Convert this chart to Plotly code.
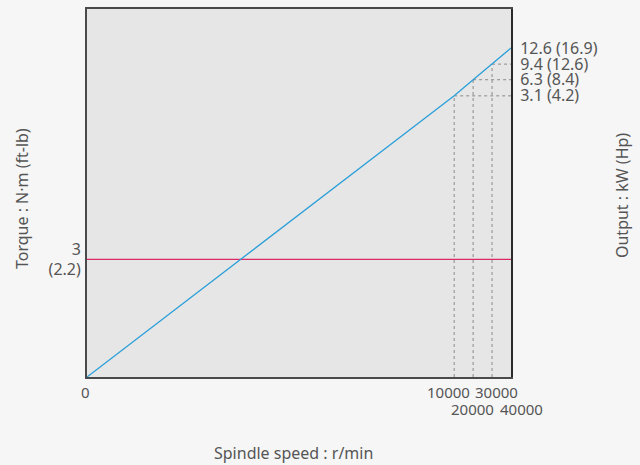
import numpy as np
import plotly.graph_objects as go

# ---- data ----
speeds = [0, 10000, 20000, 30000, 40000]          # r/min
outputs = [0, 3.1, 6.3, 9.4, 12.6]                 # kW
outputs_hp = [0, 4.2, 8.4, 12.6, 16.9]             # Hp
torque_nm = 3
torque_ftlb = 2.2

# ---- schematic (broken) axis scales ----
X_BREAKS = ([0, 10000, 40000], [0, 0.866, 1.0])
Y2_BREAKS = ([0, 3.1, 12.6], [0, 0.764, 0.894])

def sx(v):
    return np.interp(v, *X_BREAKS)

def sy2(v):
    return np.interp(v, *Y2_BREAKS)

xs = sx(speeds)
ys = sy2(outputs)

fig = go.Figure()

# dashed guides
for xv, yv in zip(xs[1:-1], ys[1:-1]):
    fig.add_trace(go.Scatter(x=[xv, xv], y=[0, yv], yaxis="y2", mode="lines",
                             line=dict(color="#8a8a8a", width=1, dash="3px,3px"),
                             hoverinfo="skip", showlegend=False))
    fig.add_trace(go.Scatter(x=[xv, sx(speeds[-1])], y=[yv, yv], yaxis="y2", mode="lines",
                             line=dict(color="#8a8a8a", width=1, dash="3px,3px"),
                             hoverinfo="skip", showlegend=False))

# torque line
fig.add_trace(go.Scatter(x=[sx(speeds[0]), sx(speeds[-1])], y=[torque_nm, torque_nm],
                         mode="lines", line=dict(color="#dc2a66", width=1.3),
                         showlegend=False))
# output line
fig.add_trace(go.Scatter(x=xs, y=ys, yaxis="y2", mode="lines",
                         line=dict(color="#2b9fd9", width=1.3), showlegend=False))

font = dict(family="Noto Sans, Open Sans, sans-serif", size=16, color="#555555")
tfont = dict(family="Noto Sans, Open Sans, sans-serif", size=15, color="#555555")

# x tick labels (staggered rows, as in the original)
x_shift = [-2, -6, -1, 4, 10]
x_row = [-14.5, -14.5, -31.5, -14.5, -31.5]
annotations = []
for s, xv, dx, dy in zip(speeds, xs, x_shift, x_row):
    annotations.append(dict(text=str(s), xref="x", yref="paper", x=xv, y=0,
                            xshift=dx, yshift=dy, showarrow=False,
                            xanchor="center", yanchor="middle", font=tfont))

annotations += [
    dict(text="Spindle speed : r/min", xref="paper", yref="paper",
         x=0.488, y=-0.2065, showarrow=False, xanchor="center", yanchor="middle", font=font),
    dict(text="Torque : N·m (ft-lb)", xref="paper", yref="paper",
         x=-0.1533, y=0.4837, showarrow=False, textangle=-90,
         xanchor="center", yanchor="middle", font=font),
    dict(text="Output : kW (Hp)", xref="paper", yref="paper",
         x=1.2618, y=0.4918, showarrow=False, textangle=-90,
         xanchor="center", yanchor="middle", font=font),
]

fig.update_layout(
    width=640, height=465,
    margin=dict(l=87, r=129, t=9, b=88, autoexpand=False),
    paper_bgcolor="#f6f6f6", plot_bgcolor="#e6e6e6",
    font=font,
    xaxis=dict(range=[0, 1], showticklabels=False,
               showgrid=False, zeroline=False, ticks="", automargin=False,
               showline=True, mirror=True, linecolor="#4a4a4a", linewidth=2),
    yaxis=dict(range=[0, torque_nm / 0.3198], tickvals=[torque_nm],
               ticktext=[f"{torque_nm}<br>({torque_ftlb})"], automargin=False,
               showgrid=False, zeroline=False, ticks="", ticklabelstandoff=1,
               showline=True, linecolor="#4a4a4a", linewidth=2, tickfont=font),
    yaxis2=dict(range=[0, 1], overlaying="y", side="right", automargin=False,
                tickvals=list(ys[1:]),
                ticktext=[f"{o} ({h})" for o, h in zip(outputs[1:], outputs_hp[1:])],
                showgrid=False, zeroline=False, ticks="", ticklabelstandoff=4,
                showline=True, linecolor="#2a2a2a", linewidth=2, tickfont=font),
    annotations=annotations,
)

fig.write_html("out.html", config={"displayModeBar": False},
               post_script="document.body.style.margin='0';")
